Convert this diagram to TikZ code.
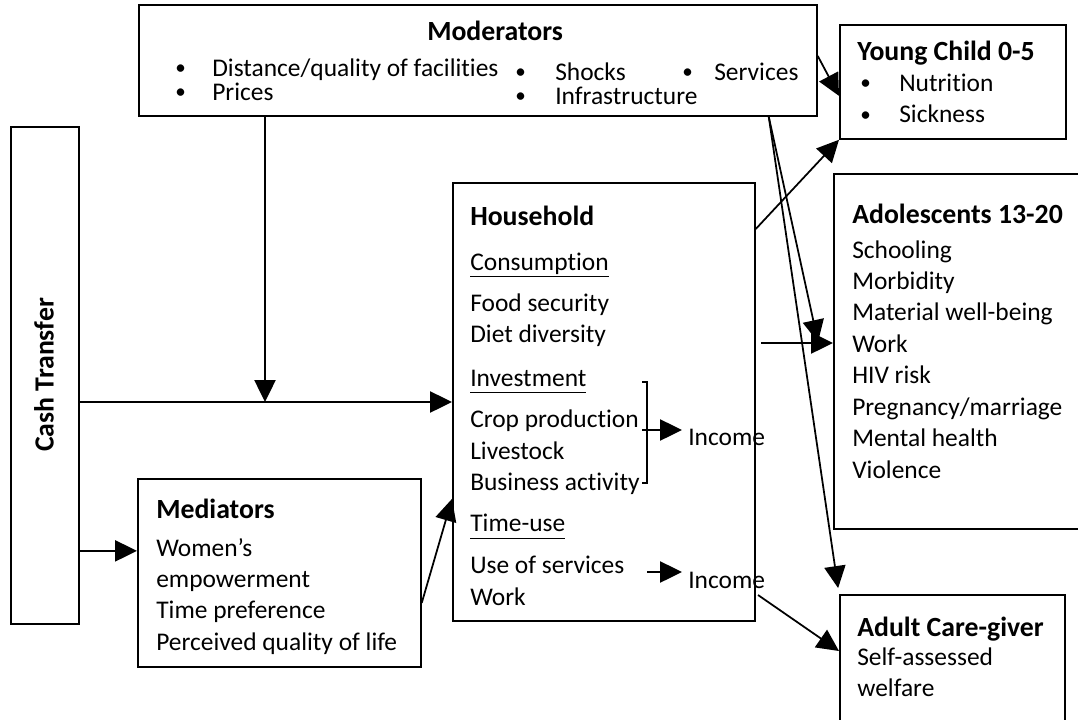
\documentclass[tikz,border=0pt]{standalone}
\usepackage{fontspec}
\setmainfont{Carlito}[Ligatures=NoCommon]
\usepackage{tikz}
\usetikzlibrary{arrows.meta}

\newcommand{\uln}[1]{\underline{#1\vphantom{p}}}
\newcommand{\blt}[2][0.95cm]{\makebox[#1][l]{\raisebox{0.1ex}{\fontsize{15}{15}\selectfont\textbullet}}#2}
\newcommand{\hdr}[1]{{\fontsize{19.75}{22.4}\selectfont\bfseries #1}}

\begin{document}
\begin{tikzpicture}[
    font=\fontsize{18.1}{22.4}\selectfont,
    box/.style={draw, line width=1.25pt, anchor=north west, inner sep=0pt},
    txt/.style={anchor=base west, inner sep=0pt, align=flush left, text width=#1},
    txt/.default=12cm,
    arr/.style={-{Triangle[length=0.55cm,width=0.53cm]}, line width=1.25pt}
]
    \useasboundingbox (0,0) rectangle (26.95,-17.975);

    % boxes
    \node[box, minimum width=16.95cm, minimum height=2.775cm] at (3.45,-0.1) (mod) {};
    \node[box, minimum width=5.65cm, minimum height=2.85cm] at (20.975,-0.6) (yc) {};
    \node[box, minimum width=1.7cm, minimum height=12.425cm] at (0.25,-3.15) (cash) {};
    \node[box, minimum width=7.55cm, minimum height=10.95cm] at (11.3,-4.55) (hh) {};
    \node[box, minimum width=7.075cm, minimum height=4.7cm] at (3.425,-11.95) (med) {};
    \node[box, minimum width=6.3cm, minimum height=8.875cm] at (20.825,-4.325) (ado) {};
    \node[box, minimum width=5.625cm, minimum height=3.4cm] at (20.975,-14.85) (adult) {};

    % moderators
    \node[txt] at (10.675,-1.0) (modT) {\hdr{Moderators}};
    \node[txt, font=\fontsize{18.1}{17.1}\selectfont] at (4.375,-1.9) (modA)
        {\blt[0.925cm]{Distance/quality of facilities}\\ \blt[0.925cm]{Prices}};
    \node[txt, font=\fontsize{18.1}{17.1}\selectfont] at (12.875,-2.0) (modB)
        {\blt[1cm]{Shocks}\\ \blt[1cm]{Infrastructure}};
    \node[txt] at (17.05,-2.0) (modC) {\blt[0.8cm]{Services}};

    % young child
    \node[txt] at (21.425,-1.5) (ycT) {\hdr{Young Child 0-5}};
    \node[txt] at (21.5,-2.275) (ycL) {\blt[0.975cm]{Nutrition}\\ \blt[0.975cm]{Sickness}};

    \node[rotate=90] at (1.1,-9.375) (cashT) {\hdr{Cash Transfer}};

    % household
    \node[txt] at (11.75,-5.625) (hhT) {\hdr{Household}\\[0.34cm]
        \uln{Consumption}\\[0.24cm]
        Food security\\ Diet diversity\\[0.31cm]
        \uln{Investment}\\[0.24cm]
        Crop production\\ Livestock\\ Business activity\\[0.24cm]
        \uln{Time-use}\\[0.26cm]
        Use of services\\ Work};
    \node[txt] at (17.2,-11.125) (inc1) {Income};
    \node[txt] at (17.2,-14.7) (inc2) {Income};
    \draw[line width=1.25pt] (16.05,-9.55) -- (16.175,-9.55) -- (16.175,-12.075) -- (16.05,-12.075);
    \coordinate (brk) at (16.05,-10.75);
    \coordinate (tu) at (16.175,-14.3);
    \draw[arr, shorten >=0.15cm] (brk) -- (brk -| inc1.west);
    \draw[arr, shorten >=0.15cm] (tu) -- (tu -| inc2.west);

    % adolescents
    \node[txt] at (21.3,-5.575) (adoT) {\hdr{Adolescents 13-20}};
    \node[txt] at (21.3,-6.45) (adoL) {Schooling\\ Morbidity\\ Material well-being\\ Work\\
        HIV risk\\ Pregnancy/marriage\\ Mental health\\ Violence};

    % mediators
    \node[txt] at (3.9,-12.95) (medT) {\hdr{Mediators}};
    \node[txt] at (3.9,-13.9) (medL) {Women’s\\ empowerment\\ Time preference\\ Perceived quality of life};

    % adult care-giver
    \node[txt] at (21.425,-15.9) (adT) {\hdr{Adult Care-giver}};
    \node[txt] at (21.425,-16.625) (adL) {Self-assessed\\ welfare};

    % connectors
    \coordinate (mj) at (6.625,-10.05);
    \draw[arr] (mod.south -| mj) -- (mj);
    \draw[arr] (cash.east |- mj) -- (hh.west |- mj);
    \coordinate (medin) at ([yshift=0.55cm]med.west);
    \draw[arr] (cash.east |- medin) -- (medin);
    \draw[arr] ([yshift=-0.75cm]med.east) -- ([yshift=-2.425cm]hh.west);
    \draw[arr] ([yshift=-1.175cm]hh.north east) -- (yc.south west);
    \coordinate (hhc) at (19.025,-8.575);
    \draw[arr] (hhc) -- (ado.west |- hhc);
    \draw[arr] ([yshift=0.11cm]mod.east) -- ([yshift=-0.35cm]yc.west);
    \coordinate (mods) at ([xshift=-1.225cm]mod.south east);
    \coordinate (wk) at (20.45,-8.55);
    \draw[arr] (mods) -- (wk);
    \draw[arr, shorten >=0.15cm] (mods) -- (adult.north west);
    \coordinate (incs) at (18.95,-14.875);
    \draw[arr] (incs) -- ([yshift=-1.425cm]adult.north west);
\end{tikzpicture}
\end{document}
